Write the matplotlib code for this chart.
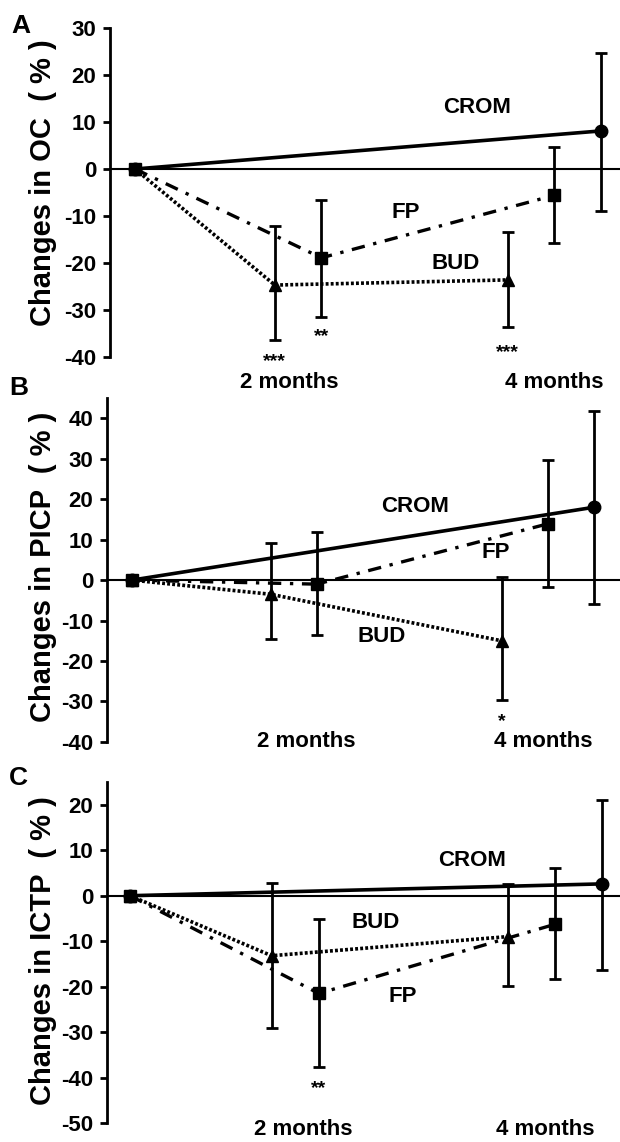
import matplotlib
matplotlib.use("Agg")
import matplotlib.pyplot as plt
import numpy as np

plt.rcParams['font.family'] = ['Liberation Sans', 'DejaVu Sans']
plt.rcParams['font.weight'] = 'bold'
plt.rcParams['axes.labelweight'] = 'bold'
plt.rcParams['axes.unicode_minus'] = False

# time points (months) and series names
months = [0, 2, 4]
series = ["CROM", "FP", "BUD"]

# A: osteocalcin, change (%), with upper / lower ends of the error bars
oc_crom = [0, np.nan, 8.1]
oc_crom_hi = [0, np.nan, 24.7]
oc_crom_lo = [0, np.nan, -8.9]
oc_fp = [0, -18.9, -5.6]
oc_fp_hi = [0, -6.6, 4.6]
oc_fp_lo = [0, -31.5, -15.7]
oc_bud = [0, -24.7, -23.6]
oc_bud_hi = [0, -12.1, -13.4]
oc_bud_lo = [0, -36.4, -33.6]

# B: PICP
picp_crom = [0, np.nan, 18.0]
picp_crom_hi = [0, np.nan, 41.9]
picp_crom_lo = [0, np.nan, -5.8]
picp_fp = [0, -1.0, 13.9]
picp_fp_hi = [0, 12.0, 29.7]
picp_fp_lo = [0, -13.6, -1.8]
picp_bud = [0, -3.5, -15.0]
picp_bud_hi = [0, 9.2, 0.7]
picp_bud_lo = [0, -14.6, -29.6]

# C: ICTP
ictp_crom = [0, np.nan, 2.6]
ictp_crom_hi = [0, np.nan, 21.0]
ictp_crom_lo = [0, np.nan, -16.3]
ictp_fp = [0, -21.5, -6.3]
ictp_fp_hi = [0, -5.1, 6.0]
ictp_fp_lo = [0, -37.6, -18.4]
ictp_bud = [0, -13.2, -9.0]
ictp_bud_hi = [0, 2.9, 2.6]
ictp_bud_lo = [0, -29.0, -19.9]

# significance marks: (series, time index, text)
oc_stars = [("BUD", 1, "***"), ("FP", 1, "**"), ("BUD", 2, "***")]
picp_stars = [("BUD", 2, "*")]
ictp_stars = [("FP", 1, "**")]

ylabels = ["Changes in OC  ( % )", "Changes in PICP  ( % )", "Changes in ICTP  ( % )"]
letters = ["A", "B", "C"]

# offset of each group's markers from the nominal month (not at baseline)
offset = {"CROM": 0.0, "FP": -0.4, "BUD": -0.8}
style = {
    "CROM": dict(ls="-", lw=2.6, marker="o"),
    "FP": dict(ls=(0, (4, 2.6, 1, 2.6)), lw=2.4, marker="s"),
    "BUD": dict(ls=(0, (0.8, 0.6)), lw=2.6, marker="^"),
}

panels = [
    dict(data={"CROM": (oc_crom, oc_crom_lo, oc_crom_hi),
               "FP": (oc_fp, oc_fp_lo, oc_fp_hi),
               "BUD": (oc_bud, oc_bud_lo, oc_bud_hi)},
         stars=oc_stars, star_y=[-39.8, -34.5, -37.9],
         rect=[0.1774, 0.6874, 0.8226, 0.2881], ylim=(-40, 30), yticks=range(-40, 31, 10),
         xlim=(-0.215, 4.163),
         names={"CROM": (2.94, 13.0), "FP": (2.32, -9.2), "BUD": (2.75, -20.2)},
         cat=[(1.32, -45.5), (3.6, -45.5)], labx=-0.104, laby=0.53),
    dict(data={"CROM": (picp_crom, picp_crom_lo, picp_crom_hi),
               "FP": (picp_fp, picp_fp_lo, picp_fp_hi),
               "BUD": (picp_bud, picp_bud_lo, picp_bud_hi)},
         stars=picp_stars, star_y=[-33.7],
         rect=[0.1726, 0.3503, 0.8274, 0.3012], ylim=(-40, 45), yticks=range(-40, 41, 10),
         xlim=(-0.216, 4.225),
         names={"CROM": (2.45, 18.3), "FP": (3.15, 6.9), "BUD": (2.16, -13.9)},
         cat=[(1.51, -40), (3.56, -40)], labx=-0.097, laby=0.51),
    dict(data={"CROM": (ictp_crom, ictp_crom_lo, ictp_crom_hi),
               "FP": (ictp_fp, ictp_fp_lo, ictp_fp_hi),
               "BUD": (ictp_bud, ictp_bud_lo, ictp_bud_hi)},
         stars=ictp_stars, star_y=[-41.1],
         rect=[0.1726, 0.0166, 0.8274, 0.2986], ylim=(-50, 25), yticks=range(-50, 21, 10),
         xlim=(-0.195, 4.153),
         names={"CROM": (2.9, 7.7), "BUD": (2.08, -5.8), "FP": (2.31, -22.1)},
         cat=[(1.47, -51.5), (3.52, -51.5)], labx=-0.097, laby=0.507),
]
letter_pos = [(21, 26), (19, 388), (18, 778)]

fig = plt.figure(figsize=(6.2, 11.42), dpi=100)

for p, ylab, letter, lp in zip(panels, ylabels, letters, letter_pos):
    ax = fig.add_axes(p["rect"])
    ax.axhline(0, color="black", lw=1.5, zorder=1)

    xs = {}
    for name in series:
        y, lo, hi = [np.array(v, dtype=float) for v in p["data"][name]]
        x = np.array([m + (offset[name] if m > 0 else 0) for m in months])
        xs[name] = x
        ok = ~np.isnan(y)
        ax.errorbar(x[ok][1:], y[ok][1:], yerr=[y[ok][1:] - lo[ok][1:], hi[ok][1:] - y[ok][1:]],
                    fmt="none", ecolor="black", elinewidth=2, capsize=4, capthick=2, zorder=2)
        ax.plot(x[ok], y[ok], color="black", lw=style[name]["lw"], ls=style[name]["ls"], zorder=3)
    for name in series:
        y = np.array(p["data"][name][0], dtype=float)
        ok = ~np.isnan(y)
        ax.plot(xs[name][ok], y[ok], ls="none", marker=style[name]["marker"],
                ms=9, color="black", zorder=4)

    for (name, i, txt), sy in zip(p["stars"], p["star_y"]):
        ax.annotate(txt, (xs[name][i], sy), xytext=(0, -4), textcoords="offset points",
                    ha="center", va="center", fontsize=14, annotation_clip=False)

    for name, (tx, ty) in p["names"].items():
        ax.text(tx, ty, name, ha="center", va="center", fontsize=16)

    for (tx, ty), lab in zip(p["cat"], ["2 months", "4 months"]):
        ax.text(tx, ty, lab, ha="center", va="center", fontsize=16, clip_on=False)

    ax.set_xlim(*p["xlim"])
    ax.set_ylim(*p["ylim"])
    ax.set_yticks(list(p["yticks"]))
    ax.set_xticks([])
    for s in ["top", "right", "bottom"]:
        ax.spines[s].set_visible(False)
    ax.spines["left"].set_linewidth(2)
    ax.tick_params(axis="y", length=5, width=2, pad=5, labelsize=16)
    for t in ax.get_yticklabels():
        t.set_fontweight("bold")
    ax.set_ylabel(ylab, fontsize=21, fontweight="bold")
    ax.yaxis.set_label_coords(p["labx"], p["laby"])

    fig.text(lp[0] / 620, 1 - lp[1] / 1142, letter, ha="center", va="center", fontsize=19)

fig.savefig("out.png", dpi=100)
